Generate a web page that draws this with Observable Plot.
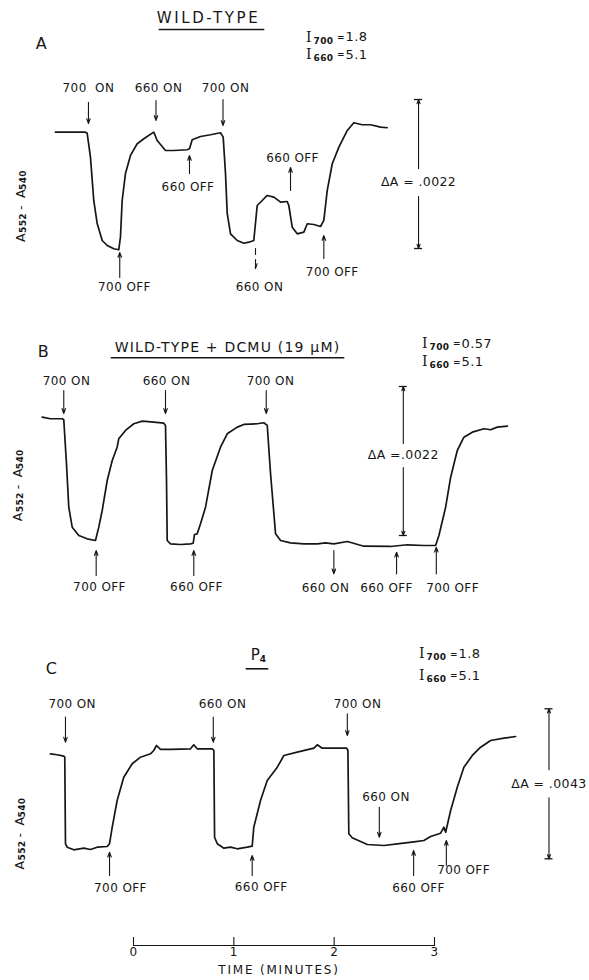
<!DOCTYPE html>
<html>
<head>
<meta charset="utf-8">
<script src="https://cdn.jsdelivr.net/npm/d3@7"></script>
<script src="https://cdn.jsdelivr.net/npm/@observablehq/plot@0.6"></script>
<style>
  body { margin: 0; background: #fff; }
  #chart { width: 589px; }
  #chart svg { display: block; }
  svg text { letter-spacing: 0.4px; }
</style>
</head>
<body>
<div id="chart"></div>
<script>
// ---------- DATA (time in minutes, absorbance change A552 - A540 in units of 0.001) ----------
// Panel A: wild-type
const tA = [-0.778,-0.595,-0.479,-0.462,-0.429,-0.396,-0.362,-0.312,-0.262,-0.196,-0.147,-0.130,-0.113,-0.080,-0.030,0.037,0.103,0.202,0.236,0.319,0.402,0.535,0.558,0.585,0.668,0.768,0.867,0.894,0.917,0.934,0.967,1.034,1.100,1.150,1.199,1.233,1.283,1.333,1.399,1.466,1.532,1.548,1.582,1.632,1.698,1.732,1.798,1.864,1.897,1.931,1.981,2.047,2.131,2.196,2.280,2.363,2.463,2.529];
const aA = [1.718,1.718,1.718,1.703,1.349,0.709,0.369,0.118,0.044,-0.004,-0.019,0.167,0.709,1.108,1.374,1.546,1.620,1.718,1.595,1.447,1.447,1.458,1.473,1.606,1.654,1.679,1.709,1.644,1.108,0.517,0.217,0.118,0.078,0.093,0.118,0.635,0.709,0.783,0.758,0.684,0.694,0.635,0.315,0.217,0.241,0.365,0.354,0.325,0.414,0.857,1.251,1.496,1.743,1.857,1.827,1.827,1.792,1.783];

// Panel B: wild-type + DCMU (19 µM)
const tB = [-0.910,-0.828,-0.711,-0.695,-0.668,-0.645,-0.611,-0.545,-0.462,-0.379,-0.346,-0.312,-0.262,-0.212,-0.163,-0.147,-0.080,0.003,0.087,0.202,0.302,0.319,0.329,0.336,0.369,0.469,0.568,0.595,0.608,0.635,0.668,0.718,0.785,0.867,0.934,1.034,1.100,1.233,1.299,1.333,1.366,1.416,1.466,1.565,1.698,1.832,1.914,1.997,2.131,2.296,2.562,2.729,2.894,3.011,3.044,3.111,3.161,3.227,3.293,3.377,3.493,3.559,3.626,3.726];
const aB = [1.747,1.724,1.724,1.709,1.059,0.418,0.123,0,-0.049,-0.074,0.123,0.369,0.812,1.108,1.304,1.428,1.551,1.650,1.688,1.673,1.659,1.625,0.812,-0.074,-0.123,-0.133,-0.123,-0.114,0.015,0.025,0.173,0.418,0.960,1.304,1.502,1.600,1.640,1.650,1.665,1.625,0.911,0.025,-0.074,-0.108,-0.123,-0.123,-0.108,-0.123,-0.089,-0.158,-0.162,-0.137,-0.148,-0.148,0,0.418,0.861,1.255,1.452,1.526,1.576,1.561,1.600,1.615];

// Panel C: P4
const tC = [-0.828,-0.761,-0.695,-0.685,-0.678,-0.661,-0.595,-0.495,-0.429,-0.362,-0.262,-0.239,-0.212,-0.163,-0.097,-0.013,0.070,0.169,0.202,0.229,0.269,0.369,0.568,0.601,0.635,0.785,0.801,0.808,0.835,0.901,0.967,1.034,1.134,1.183,1.199,1.266,1.333,1.433,1.499,1.632,1.798,1.832,1.881,1.964,2.124,2.137,2.146,2.180,2.330,2.496,2.629,2.795,2.894,2.961,3.061,3.094,3.111,3.161,3.227,3.293,3.377,3.460,3.559,3.692,3.809];
const aC = [3.010,2.982,2.942,2.913,0.430,0.333,0.258,0.304,0.267,0.333,0.353,0.430,0.906,1.671,2.339,2.724,2.913,3.010,3.105,3.248,3.134,3.134,3.154,3.268,3.154,3.154,3.105,0.619,0.430,0.304,0.333,0.287,0.333,0.361,0.906,1.671,2.245,2.626,2.962,3.056,3.171,3.268,3.171,3.171,3.171,3.105,0.717,0.602,0.410,0.381,0.430,0.487,0.525,0.639,0.734,0.906,0.763,1.385,2.053,2.626,2.962,3.200,3.392,3.458,3.506];

// Light on/off events: t = arrow time, lt = label time, top/bottom = arrow ends, ly = label level
const eventsA = [
  {label: "700  ON", t: -0.449, lt: -0.449, top: 2.157, bottom: 1.846, dir: "down", ly: 2.363},
  {label: "660 ON",  t: 0.224,  lt: 0.249,  top: 2.186, bottom: 1.891, dir: "down", ly: 2.363},
  {label: "700 ON",  t: 0.892,  lt: 0.917,  top: 2.201, bottom: 1.817, dir: "down", ly: 2.363},
  {label: "700 OFF", t: -0.137, lt: -0.090, top: -0.059, bottom: -0.428, dir: "up", ly: -0.576},
  {label: "660 OFF", t: 0.558,  lt: 0.543,  top: 1.374, bottom: 1.108, dir: "up", ly: 0.901},
  {label: "660 ON",  t: 1.216,  lt: 1.256,  top: 0.000, bottom: -0.295, dir: "down", ly: -0.576, broken: true},
  {label: "660 OFF", t: 1.565,  lt: 1.585,  top: 1.196, bottom: 0.857, dir: "up", ly: 1.329},
  {label: "700 OFF", t: 1.897,  lt: 1.981,  top: 0.192, bottom: -0.148, dir: "up", ly: -0.354}
];
const eventsB = [
  {label: "700 ON",  t: -0.695, lt: -0.668, top: 2.142, bottom: 1.802, dir: "down", ly: 2.275},
  {label: "660 ON",  t: 0.319,  lt: 0.329,  top: 2.142, bottom: 1.802, dir: "down", ly: 2.275},
  {label: "700 ON",  t: 1.323,  lt: 1.366,  top: 2.142, bottom: 1.802, dir: "down", ly: 2.275},
  {label: "700 OFF", t: -0.372, lt: -0.339, top: -0.222, bottom: -0.591, dir: "up", ly: -0.768},
  {label: "660 OFF", t: 0.601,  lt: 0.628,  top: -0.222, bottom: -0.591, dir: "up", ly: -0.768},
  {label: "660 ON",  t: 1.997,  lt: 1.914,  top: -0.222, bottom: -0.566, dir: "down", ly: -0.783},
  {label: "660 OFF", t: 2.622,  lt: 2.522,  top: -0.247, bottom: -0.566, dir: "up", ly: -0.783},
  {label: "700 OFF", t: 3.018,  lt: 3.180,  top: -0.173, bottom: -0.566, dir: "up", ly: -0.783}
];
const eventsC = [
  {label: "700 ON",  t: -0.678, lt: -0.611, top: 4.060, bottom: 3.343, dir: "down", ly: 4.424},
  {label: "660 ON",  t: 0.795,  lt: 0.887,  top: 4.060, bottom: 3.343, dir: "down", ly: 4.424},
  {label: "700 ON",  t: 2.131,  lt: 2.233,  top: 4.157, bottom: 3.535, dir: "down", ly: 4.424},
  {label: "700 OFF", t: -0.239, lt: -0.130, top: 0.189, bottom: -0.479, dir: "up", ly: -0.831},
  {label: "660 OFF", t: 1.183,  lt: 1.273,  top: 0.095, bottom: -0.479, dir: "up", ly: -0.823},
  {label: "660 ON",  t: 2.450,  lt: 2.517,  top: 1.479, bottom: 0.619, dir: "down", ly: 1.766},
  {label: "660 OFF", t: 2.792,  lt: 2.841,  top: 0.238, bottom: -0.479, dir: "up", ly: -0.843},
  {label: "700 OFF", t: 3.118,  lt: 3.290,  top: 0.525, bottom: -0.191, dir: "up", ly: -0.335}
];

// ΔA calibration bars
const barA = {t: 2.841, lo: 0, hi: 2.2, mid: 0.975, label: "ΔA = .0022"};
const barB = {t: 2.689, lo: 0, hi: 2.2, mid: 1.182, label: "ΔA =.0022"};
const barC = {t: 4.141, lo: 0, hi: 4.3, mid: 2.150, label: "ΔA = .0043"};

// light intensities
const intensA = [["700", "1.8"], ["660", "5.1"]];
const intensB = [["700", "0.57"], ["660", "5.1"]];
const intensC = [["700", "1.8"], ["660", "5.1"]];

const timeTicks = [0, 1, 2, 3];
const yLabelParts = [["A", false], ["552", true], ["-", false], ["A", false], ["540", true]];

// ---------- DRAWING ----------
const INK = "#161616";
const FONT = "'DejaVu Sans', 'Liberation Sans', sans-serif";
const X = {domain: [0, 3], range: [133, 434], axis: null};

// [text, x, y, size, anchor, rotate, weight, family]
function statics(items) {
  return items.map(([text, x, y, size, anchor, rotate, weight, family]) =>
    Plot.text([text], {
      frameAnchor: "top-left", dx: x, dy: y, text: d => d,
      fontSize: size, textAnchor: anchor || "middle", lineAnchor: "middle",
      rotate: rotate || 0, fill: INK,
      fontWeight: weight || "normal", fontFamily: family || FONT
    })
  );
}

// intensity lines "I₇₀₀ = 1.8": serif I, bold subscript, value
function intensityTexts(pairs, x, ys) {
  const out = [];
  pairs.forEach(([sub, val], i) => {
    const y = ys[i];
    out.push(["I", x + 3.5, y, 14, "middle", 0, "normal", "'DejaVu Serif', serif"]);
    out.push([sub, x + 8, y + 3.5, 9, "start", 0, "bold"]);
    out.push(["=", x + 35.5, y, 9, "middle", 0, "bold"]);
    out.push([val, x + 40, y, 13, "start"]);
  });
  return out;
}

// rotated axis title "A552 - A540" with bold subscripts
function yLabelTexts(cx, cy) {
  const offs = [29.5, 15, -0.5, -14.5, -28];
  return yLabelParts.map(([txt, sub], i) =>
    [txt, sub ? cx + 2.5 : cx, cy + offs[i], sub ? 9 : 12.5, "middle", -90, sub ? "bold" : "normal"]);
}

function panel({trace, events, bar, yDomain, yRange, height, texts, underline, gap}) {
  const arrowY1 = d => d.dir === "down" ? d.top : d.bottom;
  const arrowY2 = d => d.dir === "down" ? d.bottom : d.top;
  return Plot.plot({
    width: 589, height, margin: 0,
    x: X,
    y: {domain: yDomain, range: yRange, axis: null},
    style: {fontFamily: FONT, fontSize: "12px", background: "#fff", color: INK},
    marks: [
      Plot.line(trace, {x: "t", y: "a", stroke: INK, strokeWidth: 1.7, strokeLinejoin: "round"}),
      Plot.arrow(events.filter(d => !d.broken), {x1: "t", x2: "t", y1: arrowY1, y2: arrowY2, stroke: INK, strokeWidth: 1.1, headLength: 7, headAngle: 40}),
      Plot.arrow(events.filter(d => d.broken), {x1: "t", x2: "t", y1: arrowY1, y2: arrowY2, stroke: INK, strokeWidth: 1.1, headLength: 7, headAngle: 40, strokeDasharray: "6 5 80"}),
      Plot.text(events, {x: "lt", y: "ly", text: "label", fontSize: 12, fill: INK}),
      Plot.arrow([bar], {x1: "t", x2: "t", y1: "mid", y2: "hi", insetStart: gap, stroke: INK, strokeWidth: 1.1, headLength: 6, headAngle: 40}),
      Plot.arrow([bar], {x1: "t", x2: "t", y1: "mid", y2: "lo", insetStart: gap, stroke: INK, strokeWidth: 1.1, headLength: 6, headAngle: 40}),
      Plot.ruleY([bar], {y: "hi", x1: "t", x2: "t", insetLeft: -4, insetRight: -4, stroke: INK, strokeWidth: 1.3}),
      Plot.ruleY([bar], {y: "lo", x1: "t", x2: "t", insetLeft: -4, insetRight: -4, stroke: INK, strokeWidth: 1.3}),
      Plot.text([bar], {x: "t", y: "mid", text: "label", fontSize: 12.5, fill: INK}),
      ...statics(texts),
      Plot.frame({anchor: "top", insetTop: underline[2], insetLeft: underline[0], insetRight: 589 - underline[1], stroke: INK, strokeWidth: 1.6})
    ]
  });
}

const zipTrace = (t, a) => d3.zip(t, a).map(([t, a]) => ({t, a}));

const chartA = panel({
  trace: zipTrace(tA, aA), events: eventsA, bar: barA, gap: 14,
  yDomain: [0, 2.2], yRange: [248, 99], height: 310,
  texts: [
    ["WILD-TYPE", 208, 18, 15, "middle"],
    ["A", 41, 43, 16, "middle"],
    ...intensityTexts(intensA, 305, [36.7, 54]),
    ...yLabelTexts(20, 207.5)
  ],
  underline: [159, 263, 29]
});

const chartB = panel({
  trace: zipTrace(tB, aB), events: eventsB, bar: barB, gap: 12,
  yDomain: [0, 2.2], yRange: [225, 76], height: 310,
  texts: [
    ["WILD-TYPE + DCMU (19 μM)", 227, 36.7, 14, "middle"],
    ["B", 43, 41.7, 16, "middle"],
    ...intensityTexts(intensB, 421, [33, 51.5]),
    ...yLabelTexts(17, 176.7)
  ],
  underline: [111, 343, 47.3]
});

const chartC = panel({
  trace: zipTrace(tC, aC), events: eventsC, bar: barC, gap: 14,
  yDomain: [0, 4.3], yRange: [238.3, 88.3], height: 300,
  texts: [
    ["P", 255, 34.7, 15, "middle"],
    ["4", 262.5, 39, 9, "middle", 0, "bold"],
    ["C", 51, 48.3, 16, "middle"],
    ...intensityTexts(intensC, 418, [33.3, 55]),
    ...yLabelTexts(19, 215)
  ],
  underline: [246, 267, 48.3]
});

const chartAxis = Plot.plot({
  width: 589, height: 60,
  marginTop: 17, marginBottom: 35, marginLeft: 133, marginRight: 155,
  x: {domain: [0, 3], axis: null},
  style: {fontFamily: FONT, fontSize: "12px", background: "#fff", color: INK},
  marks: [
    Plot.frame({anchor: "bottom", stroke: INK, strokeWidth: 1.1}),
    Plot.tickX(timeTicks, {x: d => d, stroke: INK, strokeWidth: 1.1}),
    Plot.text(timeTicks, {x: d => d, frameAnchor: "bottom", dy: 10, text: d => String(d), fontSize: 12, fill: INK}),
    Plot.text(["TIME (MINUTES)"], {frameAnchor: "bottom", dx: -5, dy: 28, text: d => d, fontSize: 12, fill: INK})
  ]
});

// letter-spaced lettering for titles
function spaceText(svg, content, spacing) {
  svg.querySelectorAll("text").forEach(el => {
    if (el.textContent === content) el.style.letterSpacing = spacing;
  });
}
spaceText(chartA, "WILD-TYPE", "2.6px");
spaceText(chartB, "WILD-TYPE + DCMU (19 μM)", "1.2px");
spaceText(chartAxis, "TIME (MINUTES)", "1.8px");

const root = document.getElementById("chart");
[chartA, chartB, chartC, chartAxis].forEach(c => root.appendChild(c));
</script>
</body>
</html>
